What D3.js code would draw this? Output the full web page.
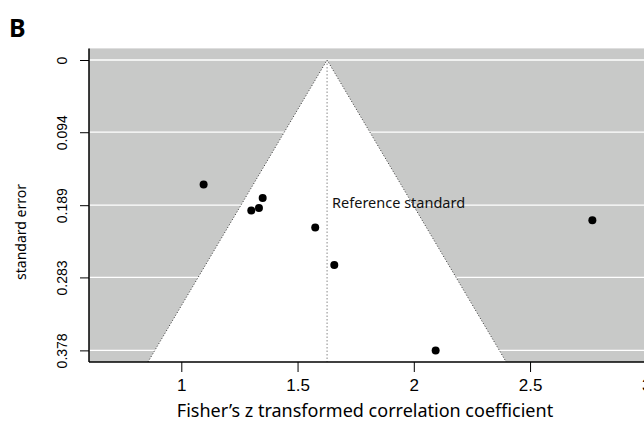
<!DOCTYPE html>
<html>
<head>
<meta charset="utf-8">
<script src="https://cdn.jsdelivr.net/npm/d3@7"></script>
<style>
  body { margin: 0; background: #fff; }
  svg { display: block; font-family: "Noto Sans", "Open Sans", sans-serif; }
</style>
</head>
<body>
<script>
// study estimates (Fisher's z) and their standard errors
var zValues = [1.096, 1.350, 1.334, 1.301, 1.576, 1.658, 2.768, 2.094];
var seValues = [0.162, 0.1795, 0.1925, 0.196, 0.218, 0.267, 0.2085, 0.378];
var xTicks = [1, 1.5, 2, 2.5, 3];
var yTicks = [0, 0.094, 0.189, 0.283, 0.378];
var refValue = 1.627;
var refLabel = "Reference standard";

var W = 644, H = 425;
var plot = { left: 89, top: 48.4, bottom: 362 };

var svg = d3.select("body").append("svg")
  .attr("width", W)
  .attr("height", H);

// scales
var x = d3.scaleLinear().domain([1, 2]).range([181.3, 413.8]);
var seMax = d3.max(seValues);
var yPad = seMax * 0.04;
var y = d3.scaleLinear().domain([-yPad, seMax + yPad]).range([plot.top, plot.bottom]);

// grey background
svg.append("rect")
  .attr("x", plot.left)
  .attr("y", plot.top)
  .attr("width", W - plot.left)
  .attr("height", plot.bottom - plot.top)
  .attr("fill", "#c8c9c8");

// grid lines
svg.selectAll(".grid")
  .data(yTicks)
  .enter().append("line")
  .attr("x1", plot.left)
  .attr("x2", W)
  .attr("y1", function(d) { return y(d); })
  .attr("y2", function(d) { return y(d); })
  .attr("stroke", "#fff")
  .attr("stroke-width", 1.3);

// funnel region
var seBottom = seMax + yPad;
var funnel = [
  [refValue - 1.96 * seBottom, seBottom],
  [refValue, 0],
  [refValue + 1.96 * seBottom, seBottom]
];
var line = d3.line().x(function(d) { return x(d[0]); }).y(function(d) { return y(d[1]); });
svg.append("path")
  .attr("d", line(funnel) + "Z")
  .attr("fill", "#fff");

svg.append("path")
  .attr("d", line(funnel))
  .attr("fill", "none")
  .attr("stroke", "#333")
  .attr("stroke-width", 1)
  .attr("stroke-dasharray", "1,2");

// reference line
svg.append("line")
  .attr("x1", x(refValue))
  .attr("x2", x(refValue))
  .attr("y1", y(0))
  .attr("y2", plot.bottom)
  .attr("stroke", "#888")
  .attr("stroke-width", 1)
  .attr("stroke-dasharray", "1.5,2");

svg.append("text")
  .attr("x", x(refValue) + 5)
  .attr("y", 208)
  .attr("font-size", 14.5)
  .attr("fill", "#111")
  .text(refLabel);

// points
svg.selectAll(".pt")
  .data(zValues)
  .enter().append("circle")
  .attr("cx", function(d) { return x(d); })
  .attr("cy", function(d, i) { return y(seValues[i]); })
  .attr("r", 4)
  .attr("fill", "#000");

// x axis
var xAxis = svg.append("g")
  .attr("transform", "translate(0," + plot.bottom + ")")
  .call(d3.axisBottom(x).tickValues(xTicks).tickSize(10).tickSizeOuter(0).tickFormat(d3.format("")));
xAxis.select(".domain").attr("d", "M" + plot.left + ",0H" + W).attr("stroke-width", 1.5);
xAxis.selectAll("text").attr("font-size", 17).attr("dy", "0.95em").attr("font-family", "inherit");

// y axis
var yAxis = svg.append("g")
  .attr("transform", "translate(" + plot.left + ",0)")
  .call(d3.axisLeft(y).tickValues(yTicks).tickSize(9).tickSizeOuter(0).tickFormat(function(d) { return d; }));
yAxis.select(".domain").attr("d", "M0," + plot.top + "V" + plot.bottom).attr("stroke-width", 1.5);
yAxis.selectAll("text")
  .attr("font-size", 14)
  .attr("font-family", "inherit")
  .attr("x", 0).attr("y", 0).attr("dy", "0")
  .attr("transform", "translate(-22,0) rotate(-90)")
  .attr("text-anchor", "middle");

// axis titles
svg.append("text")
  .attr("x", 365)
  .attr("y", 417)
  .attr("text-anchor", "middle")
  .attr("font-size", 18)
  .text("Fisher\u2019s z transformed correlation coefficient");

svg.append("text")
  .attr("transform", "translate(26,232) rotate(-90)")
  .attr("text-anchor", "middle")
  .attr("font-size", 14)
  .text("standard error");

svg.append("text")
  .attr("x", 9)
  .attr("y", 37)
  .attr("font-size", 25)
  .attr("font-weight", "bold")
  .text("B");
</script>
</body>
</html>
